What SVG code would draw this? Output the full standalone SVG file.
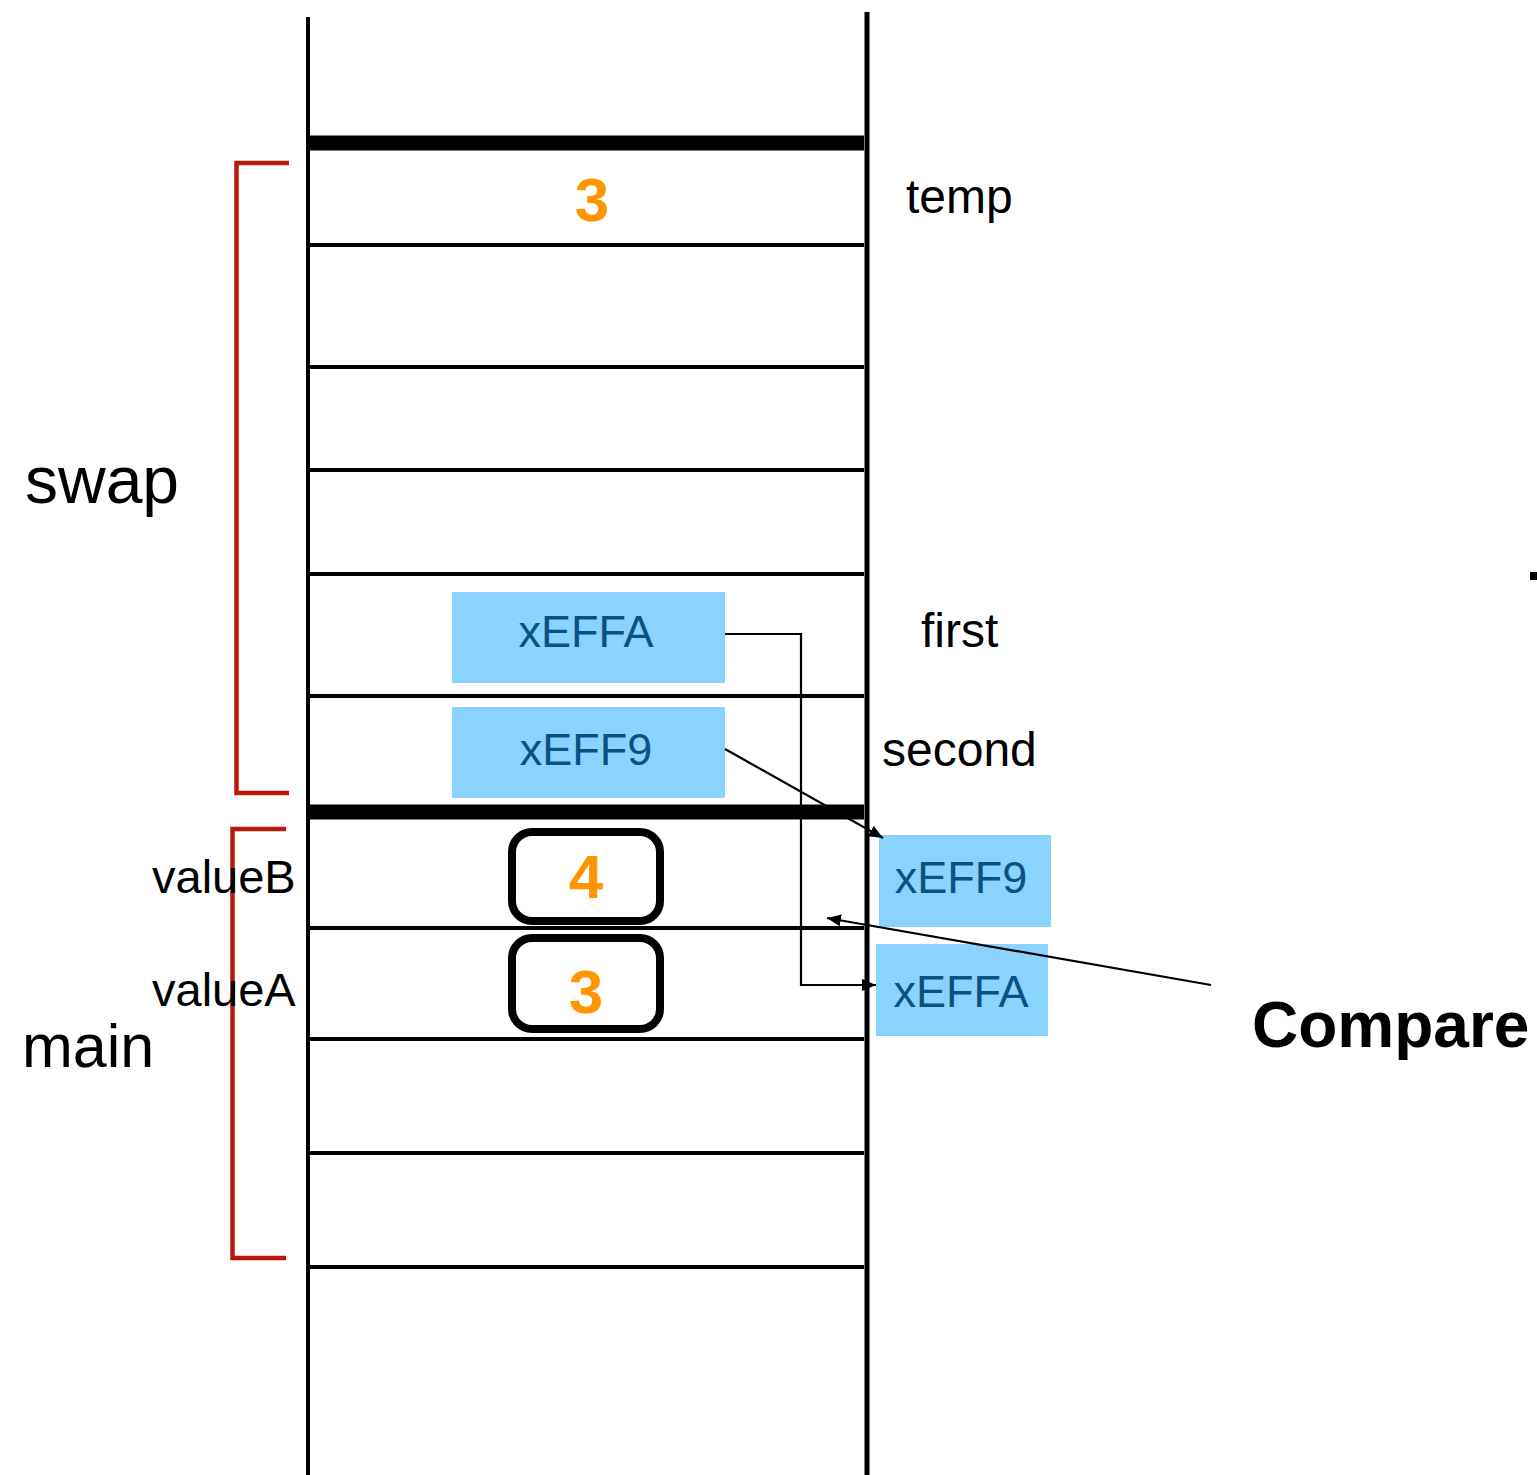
<svg xmlns="http://www.w3.org/2000/svg" width="1537" height="1475" viewBox="0 0 1537 1475">
  <style>
    .rail { stroke: #000; fill: none; }
    .slot { stroke: #000; stroke-width: 4; }
    .frame { stroke: #000; stroke-width: 15; }
    .bracket { stroke: #B8190A; stroke-width: 4.5; fill: none; }
    .lbl { font-family: "Liberation Sans", Arial, Helvetica, sans-serif; fill: #000; }
    .big { font-size: 66px; }
    .mid { font-size: 48px; }
    .addr { font-family: "Liberation Sans", Arial, Helvetica, sans-serif; font-size: 45px; fill: #0A5283; text-anchor: middle; }
    .ptr { fill: #8AD3FE; }
    .num { font-family: "Liberation Sans", Arial, Helvetica, sans-serif; font-weight: bold; font-size: 62px; fill: #FF9500; text-anchor: middle; }
    .cell { fill: #fff; stroke: #000; stroke-width: 8; }
    .wire { stroke: #000; stroke-width: 2.2; fill: none; }
  </style>
  <defs>
    <marker id="head" viewBox="0 0 14 12" refX="14" refY="6" markerWidth="14" markerHeight="12" markerUnits="userSpaceOnUse" orient="auto">
      <path d="M0,0 L14,6 L0,12 Z" fill="#000"/>
    </marker>
  </defs>

  <rect width="1537" height="1475" fill="#fff"/>

  <!-- stack column -->
  <g id="stack">
    <line class="rail" x1="308" y1="17" x2="308" y2="1475" stroke-width="4"/>
    <line class="rail" x1="867" y1="12" x2="867" y2="1475" stroke-width="5"/>
    <line class="frame" x1="308" y1="143" x2="864" y2="143"/>
    <line class="frame" x1="308" y1="812" x2="864" y2="812"/>
    <line class="slot" x1="308" y1="245" x2="864" y2="245"/>
    <line class="slot" x1="308" y1="367" x2="864" y2="367"/>
    <line class="slot" x1="308" y1="470" x2="864" y2="470"/>
    <line class="slot" x1="308" y1="574" x2="864" y2="574"/>
    <line class="slot" x1="308" y1="696" x2="864" y2="696"/>
    <line class="slot" x1="308" y1="928" x2="864" y2="928"/>
    <line class="slot" x1="308" y1="1039" x2="864" y2="1039"/>
    <line class="slot" x1="308" y1="1153" x2="864" y2="1153"/>
    <line class="slot" x1="308" y1="1267" x2="864" y2="1267"/>
  </g>

  <!-- frame brackets -->
  <g id="swap-frame">
    <polyline class="bracket" points="289,163 236.5,163 236.5,793 289,793"/>
    <text class="lbl big" x="25" y="503">swap</text>
  </g>
  <g id="main-frame">
    <polyline class="bracket" points="286,829 232.5,829 232.5,1258 286,1258"/>
    <text class="lbl" x="22" y="1067" font-size="61">main</text>
  </g>

  <!-- swap locals -->
  <g id="temp">
    <text class="num" x="592" y="221">3</text>
    <text class="lbl mid" x="906" y="213">temp</text>
  </g>
  <g id="first">
    <rect class="ptr" x="452" y="592" width="273" height="91"/>
    <text class="addr" x="586" y="647">xEFFA</text>
    <text class="lbl mid" x="921" y="647">first</text>
  </g>
  <g id="second">
    <rect class="ptr" x="452" y="707" width="273" height="91"/>
    <text class="addr" x="586" y="765">xEFF9</text>
    <text class="lbl mid" x="882" y="766">second</text>
  </g>

  <!-- main locals -->
  <g id="valueB">
    <rect class="cell" x="512" y="832" width="148" height="89" rx="20"/>
    <text class="num" x="586" y="898">4</text>
    <text class="lbl" x="152" y="893" font-size="47">valueB</text>
  </g>
  <g id="valueA">
    <rect class="cell" x="512" y="938" width="148" height="91" rx="20"/>
    <text class="num" x="586" y="1013">3</text>
    <text class="lbl" x="152" y="1006" font-size="47">valueA</text>
  </g>

  <!-- addresses of the main slots -->
  <g id="addr-valueB">
    <rect class="ptr" x="879" y="835" width="172" height="92"/>
    <text class="addr" x="961" y="893">xEFF9</text>
  </g>
  <g id="addr-valueA">
    <rect class="ptr" x="876" y="944" width="172" height="92"/>
    <text class="addr" x="961" y="1007">xEFFA</text>
  </g>

  <g id="compare">
    <text class="lbl" x="1252" y="1047" font-size="64" font-weight="bold">Compare</text>
  </g>

  <rect x="1530" y="572" width="7" height="8" fill="#000"/>

  <!-- pointer connectors -->
  <g id="connectors">
    <polyline class="wire" points="725,634 801,634 801,985 876,985" marker-end="url(#head)"/>
    <line class="wire" x1="725" y1="749" x2="883" y2="838" marker-end="url(#head)"/>
    <line class="wire" x1="1211" y1="985" x2="827" y2="918" marker-end="url(#head)"/>
  </g>
</svg>
